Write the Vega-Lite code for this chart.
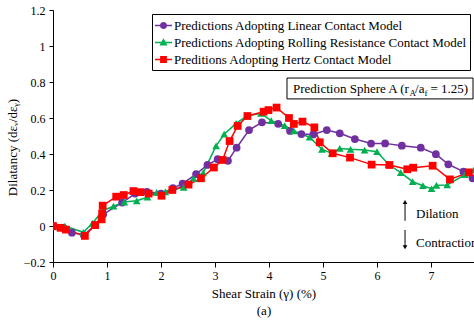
{
  "$schema": "https://vega.github.io/schema/vega-lite/v6.json",
  "width": 421,
  "height": 252,
  "autosize": "none",
  "padding": {"left": 53, "top": 10, "right": 0, "bottom": 60},
  "config": {
    "view": {"stroke": null},
    "font": "Liberation Serif",
    "axis": {"labelFont": "Liberation Serif", "titleFont": "Liberation Serif", "labelColor": "black", "titleColor": "black", "domainColor": "black", "tickColor": "black", "labelFontSize": 12, "titleFontSize": 13, "titleFontWeight": "normal", "grid": false, "labelOverlap": false},
    "legend": {"labelFont": "Liberation Serif"}
  },
  "datasets": {
    "series": [
      {"m": "L", "x": 0, "y": 0}, {"m": "L", "x": 0.2, "y": -0.012}, {"m": "L", "x": 0.35, "y": -0.037}, {"m": "L", "x": 0.57, "y": -0.05}, {"m": "L", "x": 0.78, "y": 0.005}, {"m": "L", "x": 0.93, "y": 0.065}, {"m": "L", "x": 1.28, "y": 0.13}, {"m": "L", "x": 1.52, "y": 0.18}, {"m": "L", "x": 1.74, "y": 0.19}, {"m": "L", "x": 2.0, "y": 0.18}, {"m": "L", "x": 2.22, "y": 0.21}, {"m": "L", "x": 2.4, "y": 0.235}, {"m": "L", "x": 2.65, "y": 0.288}, {"m": "L", "x": 2.86, "y": 0.339}, {"m": "L", "x": 3.05, "y": 0.371}, {"m": "L", "x": 3.24, "y": 0.362}, {"m": "L", "x": 3.4, "y": 0.435}, {"m": "L", "x": 3.63, "y": 0.533}, {"m": "L", "x": 3.87, "y": 0.576}, {"m": "L", "x": 4.17, "y": 0.568}, {"m": "L", "x": 4.39, "y": 0.528}, {"m": "L", "x": 4.6, "y": 0.511}, {"m": "L", "x": 4.82, "y": 0.509}, {"m": "L", "x": 5.07, "y": 0.533}, {"m": "L", "x": 5.31, "y": 0.515}, {"m": "L", "x": 5.59, "y": 0.483}, {"m": "L", "x": 5.89, "y": 0.458}, {"m": "L", "x": 6.15, "y": 0.459}, {"m": "L", "x": 6.46, "y": 0.446}, {"m": "L", "x": 6.81, "y": 0.435}, {"m": "L", "x": 7.09, "y": 0.399}, {"m": "L", "x": 7.32, "y": 0.343}, {"m": "L", "x": 7.6, "y": 0.302}, {"m": "L", "x": 7.77, "y": 0.265},
      {"m": "R", "x": 0, "y": -0.005}, {"m": "R", "x": 0.22, "y": 0}, {"m": "R", "x": 0.56, "y": -0.035}, {"m": "R", "x": 0.73, "y": 0.015}, {"m": "R", "x": 0.92, "y": 0.085}, {"m": "R", "x": 1.12, "y": 0.11}, {"m": "R", "x": 1.32, "y": 0.133}, {"m": "R", "x": 1.55, "y": 0.14}, {"m": "R", "x": 1.75, "y": 0.16}, {"m": "R", "x": 1.92, "y": 0.187}, {"m": "R", "x": 2.08, "y": 0.19}, {"m": "R", "x": 2.42, "y": 0.215}, {"m": "R", "x": 2.6, "y": 0.265}, {"m": "R", "x": 2.78, "y": 0.295}, {"m": "R", "x": 3.02, "y": 0.445}, {"m": "R", "x": 3.17, "y": 0.51}, {"m": "R", "x": 3.39, "y": 0.57}, {"m": "R", "x": 3.59, "y": 0.611}, {"m": "R", "x": 3.85, "y": 0.626}, {"m": "R", "x": 4.04, "y": 0.585}, {"m": "R", "x": 4.29, "y": 0.558}, {"m": "R", "x": 4.46, "y": 0.528}, {"m": "R", "x": 4.75, "y": 0.493}, {"m": "R", "x": 4.98, "y": 0.426}, {"m": "R", "x": 5.16, "y": 0.404}, {"m": "R", "x": 5.31, "y": 0.431}, {"m": "R", "x": 5.51, "y": 0.426}, {"m": "R", "x": 5.77, "y": 0.422}, {"m": "R", "x": 6.0, "y": 0.413}, {"m": "R", "x": 6.21, "y": 0.343}, {"m": "R", "x": 6.44, "y": 0.296}, {"m": "R", "x": 6.66, "y": 0.246}, {"m": "R", "x": 6.85, "y": 0.224}, {"m": "R", "x": 7.01, "y": 0.207}, {"m": "R", "x": 7.1, "y": 0.226}, {"m": "R", "x": 7.3, "y": 0.228}, {"m": "R", "x": 7.63, "y": 0.285}, {"m": "R", "x": 7.79, "y": 0.31},
      {"m": "H", "x": 0, "y": 0}, {"m": "H", "x": 0.14, "y": -0.01}, {"m": "H", "x": 0.24, "y": -0.02}, {"m": "H", "x": 0.59, "y": -0.055}, {"m": "H", "x": 0.78, "y": 0.005}, {"m": "H", "x": 0.9, "y": 0.037}, {"m": "H", "x": 0.91, "y": 0.07}, {"m": "H", "x": 0.92, "y": 0.113}, {"m": "H", "x": 1.17, "y": 0.163}, {"m": "H", "x": 1.31, "y": 0.172}, {"m": "H", "x": 1.49, "y": 0.194}, {"m": "H", "x": 1.62, "y": 0.188}, {"m": "H", "x": 1.77, "y": 0.18}, {"m": "H", "x": 2.01, "y": 0.168}, {"m": "H", "x": 2.21, "y": 0.2}, {"m": "H", "x": 2.51, "y": 0.23}, {"m": "H", "x": 2.74, "y": 0.265}, {"m": "H", "x": 2.98, "y": 0.325}, {"m": "H", "x": 3.14, "y": 0.367}, {"m": "H", "x": 3.27, "y": 0.472}, {"m": "H", "x": 3.42, "y": 0.556}, {"m": "H", "x": 3.6, "y": 0.611}, {"m": "H", "x": 3.9, "y": 0.635}, {"m": "H", "x": 3.99, "y": 0.644}, {"m": "H", "x": 4.14, "y": 0.658}, {"m": "H", "x": 4.37, "y": 0.6}, {"m": "H", "x": 4.46, "y": 0.567}, {"m": "H", "x": 4.62, "y": 0.58}, {"m": "H", "x": 4.84, "y": 0.548}, {"m": "H", "x": 4.94, "y": 0.465}, {"m": "H", "x": 5.18, "y": 0.404}, {"m": "H", "x": 5.5, "y": 0.38}, {"m": "H", "x": 5.9, "y": 0.341}, {"m": "H", "x": 6.23, "y": 0.339}, {"m": "H", "x": 6.56, "y": 0.315}, {"m": "H", "x": 6.67, "y": 0.324}, {"m": "H", "x": 7.03, "y": 0.335}, {"m": "H", "x": 7.35, "y": 0.259}, {"m": "H", "x": 7.7, "y": 0.298}
    ]
  },
  "layer": [
    {
      "data": {"name": "series"},
      "mark": {"type": "line", "strokeWidth": 1.5, "clip": true},
      "encoding": {
        "x": {"field": "x", "type": "quantitative", "scale": {"domain": [0, 7.796], "nice": false, "zero": false},
              "axis": {"title": ["Shear Strain (γ) (%)", "(a)"], "titleLineHeight": 17, "values": [0, 1, 2, 3, 4, 5, 6, 7], "labelFlush": false, "tickSize": 5, "labelPadding": 3, "titlePadding": 6, "labelOverlap": false}},
        "y": {"field": "y", "type": "quantitative", "scale": {"domain": [-0.2, 1.2], "nice": false, "zero": false},
              "axis": {"title": "Dilatancy (dεᵥ/dεᵧ)", "tickCount": 7, "format": "~g", "tickSize": 4, "labelPadding": 4, "titlePadding": 4, "titleY": 137, "labelBound": false, "labelOverlap": false, "labelFlush": false}},
        "color": {"field": "m", "type": "nominal", "scale": {"domain": ["L", "R", "H"], "range": ["#7030A0", "#00B050", "#FF0000"]}, "legend": null}
      }
    },
    {
      "mark": {"type": "rule", "color": "#808080", "strokeWidth": 1.5},
      "encoding": {"y": {"datum": 0, "type": "quantitative"}}
    },
    {
      "mark": {"type": "rule", "color": "black", "strokeWidth": 1},
      "encoding": {"y": {"datum": 1.2, "type": "quantitative"}}
    },
    {
      "data": {"name": "series"},
      "mark": {"type": "point", "filled": true, "opacity": 1, "size": 60, "clip": true},
      "encoding": {
        "x": {"field": "x", "type": "quantitative"},
        "y": {"field": "y", "type": "quantitative"},
        "color": {"field": "m", "type": "nominal", "scale": {"domain": ["L", "R", "H"], "range": ["#7030A0", "#00B050", "#FF0000"]}, "legend": null},
        "shape": {"field": "m", "type": "nominal", "scale": {"domain": ["L", "R", "H"], "range": ["circle", "triangle-up", "square"]}, "legend": null}
      }
    },
    {
      "data": {"name": "series"},
      "transform": [{"filter": "datum.x > 1000"}],
      "mark": {"type": "point", "filled": true, "opacity": 1, "clip": true},
      "encoding": {
        "x": {"field": "x", "type": "quantitative"},
        "y": {"field": "y", "type": "quantitative"},
        "color": {"field": "m", "type": "nominal", "title": null, "scale": {"domain": ["L", "R", "H"], "range": ["#7030A0", "#00B050", "#FF0000"]},
                  "legend": {"orient": "none", "legendX": 99, "legendY": 4, "title": null, "strokeColor": "black", "fillColor": "white", "padding": 3, "rowPadding": 1, "symbolSize": 289, "symbolOpacity": 1, "symbolStrokeWidth": 0, "labelFontSize": 13, "labelColor": "black", "labelLimit": 0, "labelOffset": 2,
                             "labelExpr": "datum.label == 'L' ? 'Predictions Adopting Linear Contact Model' : datum.label == 'R' ? 'Predictions Adopting Rolling Resistance Contact Model' : 'Preditions Adopting Hertz Contact Model'"}},
        "shape": {"field": "m", "type": "nominal", "title": null, "scale": {"domain": ["L", "R", "H"], "range": [
          "M-1,-0.09H1V0.09H-1Z M-0.42,0A0.42,0.42 0 1,1 0.42,0A0.42,0.42 0 1,1 -0.42,0Z",
          "M-1,-0.09H1V0.09H-1Z M0,-0.5L0.48,0.35H-0.48Z",
          "M-1,-0.09H1V0.09H-1Z M-0.4,-0.4H0.4V0.4H-0.4Z"]}}
      }
    },
    {
      "data": {"values": [{"x": 4.333, "x2": 7.778, "y": 0.822, "y2": 0.706}]},
      "mark": {"type": "rect", "fill": "white", "stroke": "black", "strokeWidth": 1},
      "encoding": {
        "x": {"field": "x", "type": "quantitative"}, "x2": {"field": "x2"},
        "y": {"field": "y", "type": "quantitative"}, "y2": {"field": "y2"}
      }
    },
    {
      "data": {"values": [
        {"x": 4.444, "y": 0.739, "t": "Prediction Sphere A (r"},
        {"x": 6.705, "y": 0.739, "t": "/a"},
        {"x": 6.99, "y": 0.739, "t": "= 1.25)"},
        {"x": 6.722, "y": 0.046, "t": "Dilation"},
        {"x": 6.722, "y": -0.117, "t": "Contraction"}
      ]},
      "mark": {"type": "text", "align": "left", "baseline": "alphabetic", "fontSize": 13, "font": "Liberation Serif", "color": "black"},
      "encoding": {
        "x": {"field": "x", "type": "quantitative"},
        "y": {"field": "y", "type": "quantitative"},
        "text": {"field": "t"}
      }
    },
    {
      "data": {"values": [
        {"x": 6.6, "y": 0.72, "t": "A"},
        {"x": 6.88, "y": 0.72, "t": "f"}
      ]},
      "mark": {"type": "text", "align": "left", "baseline": "alphabetic", "fontSize": 9, "font": "Liberation Serif", "color": "black"},
      "encoding": {
        "x": {"field": "x", "type": "quantitative"},
        "y": {"field": "y", "type": "quantitative"},
        "text": {"field": "t"}
      }
    },
    {
      "data": {"values": [
        {"x": 6.519, "y": 0.029, "y2": 0.13},
        {"x": 6.519, "y": -0.022, "y2": -0.115}
      ]},
      "mark": {"type": "rule", "color": "black", "strokeWidth": 1},
      "encoding": {
        "x": {"field": "x", "type": "quantitative"},
        "y": {"field": "y", "type": "quantitative"}, "y2": {"field": "y2"}
      }
    },
    {
      "data": {"values": [
        {"x": 6.519, "y": 0.133, "s": "up"},
        {"x": 6.519, "y": -0.118, "s": "down"}
      ]},
      "mark": {"type": "point", "filled": true, "opacity": 1, "size": 22, "color": "black"},
      "encoding": {
        "x": {"field": "x", "type": "quantitative"},
        "y": {"field": "y", "type": "quantitative"},
        "shape": {"field": "s", "type": "nominal", "scale": {"domain": ["up", "down"], "range": ["triangle-up", "triangle-down"]}, "legend": null}
      }
    }
  ],
  "resolve": {"scale": {"color": "independent", "shape": "independent"}}
}
